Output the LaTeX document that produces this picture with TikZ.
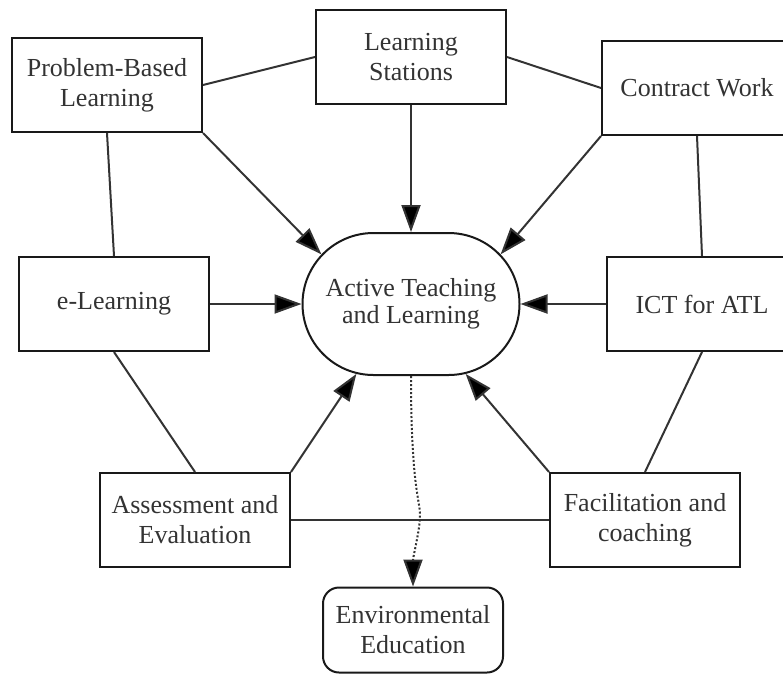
\documentclass[tikz,border=0pt]{standalone}
\usepackage{fontspec}
\setmainfont{Liberation Serif}
\usetikzlibrary{arrows.meta,shapes.misc}

\begin{document}
\begin{tikzpicture}
[x=1pt,y=1pt
,topic/.style={draw=black!90,line width=2pt,align=center,text=black!80
  ,font=\fontsize{26}{30}\selectfont,minimum width=190pt,minimum height=94pt,inner sep=2pt}
,core/.style={topic,rounded rectangle,minimum width=221pt,minimum height=142pt}
,goal/.style={topic,rounded corners=16pt,minimum width=180pt,minimum height=85pt}
,link/.style={draw=black!80,line width=2pt}
,feed/.style={link,arrows={-Triangle[length=27pt,width=19pt,fill=black]}}
,lead/.style={feed,dotted}]
\useasboundingbox (0,0) rectangle (783,-675);
\clip (0,0) rectangle (783,-675);
\node[topic] (pbl) at (107,-85) {Problem-Based\\Learning};
\node[topic] (ls) at (411,-57) {Learning\\Stations};
\node[topic] (cw) at (697,-88) {Contract Work};
\node[topic] (el) at (114,-304) {e-Learning};
\node[core] (atl) at (411,-304) {\raisebox{-3pt}{\begin{tabular}{@{}c@{}}Active Teaching\\[-3pt]and Learning\end{tabular}}};
\node[topic] (ict) at (702,-304) {ICT for ATL};
\node[topic] (ae) at (195,-520) {Assessment and\\Evaluation};
\node[topic] (fc) at (645,-520) {Facilitation and\\coaching};
\node[goal] (ee) at (413,-630) {Environmental\\Education};
% plain links round the ring
\draw[link] (pbl.east) -- (ls.west);
\draw[link] (ls.east) -- (cw.west);
\draw[link] (pbl.south) -- (el.north);
\draw[link] (cw.south) -- (ict.north);
\draw[link] (el.south) -- (ae.north);
\draw[link] (ict.south) -- (fc.north);
\draw[link] (ae.east) -- (fc.west);
% everything feeds the centre
\draw[feed] (pbl.south east) -- (atl.151);
\draw[feed] (ls.south) -- (atl.north);
\draw[feed] (cw.south west) -- (atl.29);
\draw[feed] (el.east) -- (atl.west);
\draw[feed] (ict.west) -- (atl.east);
\draw[feed] (ae.north east) -- (atl.232);
\draw[feed] (fc.north west) -- (atl.308);
\coordinate (kink) at (420,-515);
\draw[lead] (atl.south) .. controls +(0,-110) and +(0,15) .. (kink)
  .. controls +(0,-15) and +(0,30) .. (ee.north);
\end{tikzpicture}
\end{document}
